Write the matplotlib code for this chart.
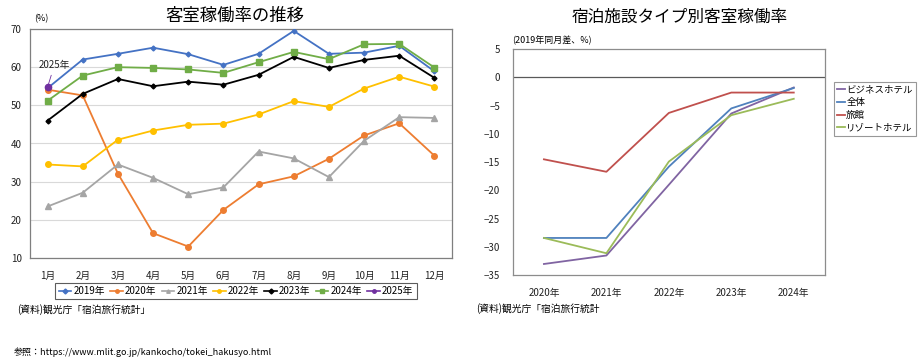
import matplotlib
matplotlib.use("Agg")
import matplotlib.pyplot as plt
from matplotlib.lines import Line2D

plt.rcParams['font.family'] = ['Noto Sans CJK JP', 'DejaVu Sans']

months = ['1月', '2月', '3月', '4月', '5月', '6月', '7月', '8月', '9月', '10月', '11月', '12月']
y2019 = [54.5, 62.0, 63.5, 65.1, 63.4, 60.6, 63.5, 69.5, 63.5, 63.8, 65.6, 58.9]
y2020 = [54.1, 52.6, 32.1, 16.5, 13.0, 22.6, 29.3, 31.4, 36.0, 42.1, 45.3, 36.8]
y2021 = [23.5, 27.1, 34.5, 31.0, 26.7, 28.5, 37.9, 36.1, 31.2, 40.7, 46.9, 46.7]
y2022 = [34.5, 34.0, 41.0, 43.4, 44.9, 45.2, 47.6, 51.1, 49.6, 54.4, 57.5, 54.9]
y2023 = [46.0, 53.0, 56.9, 55.0, 56.2, 55.4, 58.0, 62.7, 59.8, 61.9, 63.0, 57.2]
y2024 = [51.2, 57.8, 60.0, 59.8, 59.4, 58.5, 61.3, 64.0, 62.1, 66.0, 66.1, 59.9]
y2025 = [54.8]

years = ['2020年', '2021年', '2022年', '2023年', '2024年']
business = [-33.0, -31.5, -19.0, -6.4, -1.8]
overall = [-28.4, -28.4, -15.8, -5.5, -1.9]
ryokan = [-14.5, -16.7, -6.3, -2.7, -2.7]
resort = [-28.4, -31.1, -14.9, -6.7, -3.8]

fig = plt.figure(figsize=(9.23, 3.62), dpi=100)
W, H = 923, 362

def axrect(l, t, r, b):
    return [l / W, (H - b) / H, (r - l) / W, (b - t) / H]

# ---------- left chart ----------
ax = fig.add_axes(axrect(30, 29, 452, 258))
x = list(range(1, 13))
series = [
    ('2019年', y2019, '#4472C4', 'D', 2.5),
    ('2020年', y2020, '#ED7D31', 'o', 4),
    ('2021年', y2021, '#A5A5A5', '^', 4),
    ('2022年', y2022, '#FFC000', 'o', 4),
    ('2023年', y2023, '#000000', 'D', 2.5),
    ('2024年', y2024, '#70AD47', 's', 4),
    ('2025年', y2025, '#7030A0', 'o', 4.5),
]
handles = []
for name, vals, c, m, ms in series:
    ax.plot(x[:len(vals)], vals, color=c, marker=m, markersize=ms, linewidth=1.3, zorder=3)
    handles.append(Line2D([0], [0], color=c, marker=m, markersize=2.5, linewidth=1.2))
ax.set_xlim(0.5, 12.5)
ax.set_ylim(10, 70)
ax.set_yticks(range(10, 71, 10))
ax.set_xticks(x)
ax.set_xticklabels(months)
ax.tick_params(length=0, labelsize=7, colors='#222222')
ax.tick_params(axis='x', pad=9)
ax.tick_params(axis='y', pad=6)
ax.grid(axis='y', color='#D9D9D9', linewidth=0.8)
ax.set_axisbelow(True)
for s in ax.spines.values():
    s.set_color('#7F7F7F')
    s.set_linewidth(0.9)
ax.annotate('2025年', xy=(1, y2025[0]), xytext=(0.75, 59.3), fontsize=7,
            ha='left', va='bottom', color='#222222',
            arrowprops=dict(arrowstyle='-', color='#7030A0', linewidth=0.6))
fig.text(235 / W, 1 - 16 / H, '客室稼働率の推移', fontsize=12.5, ha='center', va='center')
fig.text(34 / W, 1 - 19 / H, '(%)', fontsize=6.5, ha='left', va='center')
leg = fig.legend(handles, [s[0] for s in series], loc='center', bbox_to_anchor=(236 / W, 1 - 291 / H),
                 ncol=7, fontsize=7, frameon=True, fancybox=False, handlelength=1.3,
                 handletextpad=0.2, columnspacing=0.55, borderpad=0.35)
leg.get_frame().set_edgecolor('#333333')
leg.get_frame().set_linewidth(0.8)
fig.text(17 / W, 1 - 310 / H, '(資料)観光庁「宿泊旅行統計」', fontsize=7, ha='left', va='center')

# ---------- right chart ----------
ax2 = fig.add_axes(axrect(512.7, 49, 825, 275.3))
xi = list(range(len(years)))
rseries = [
    ('ビジネスホテル', business, '#8064A2'),
    ('全体', overall, '#4F81BD'),
    ('旅館', ryokan, '#C0504D'),
    ('リゾートホテル', resort, '#9BBB59'),
]
rh = []
for name, vals, c in rseries:
    l, = ax2.plot(xi, vals, color=c, linewidth=1.3, label=name)
    rh.append(l)
ax2.axhline(0, color='#595959', linewidth=0.9, zorder=1)
ax2.set_xlim(-0.5, 4.5)
ax2.set_ylim(-35, 5)
ax2.set_yticks(range(-35, 6, 5))
ax2.set_xticks(xi)
ax2.set_xticklabels(years)
ax2.tick_params(length=0, labelsize=7, colors='#222222')
ax2.tick_params(axis='x', pad=9)
ax2.tick_params(axis='y', pad=9)
for s in ax2.spines.values():
    s.set_color('#8C8C8C')
    s.set_linewidth(0.9)
fig.text(680 / W, 1 - 17 / H, '宿泊施設タイプ別客室稼働率', fontsize=12, ha='center', va='center')
fig.text(512 / W, 1 - 40 / H, '(2019年同月差、%)', fontsize=6.5, ha='left', va='center')
leg2 = fig.legend(rh, [r[0] for r in rseries], loc='upper left', bbox_to_anchor=(834 / W, 1 - 82 / H),
                  fontsize=6.8, frameon=True, fancybox=False, handlelength=0.8, handletextpad=0.15,
                  borderpad=0.35, labelspacing=0.4, borderaxespad=0)
leg2.get_frame().set_edgecolor('#7F7F7F')
leg2.get_frame().set_linewidth(0.8)
fig.text(476 / W, 1 - 309 / H, '(資料)観光庁「宿泊旅行統計', fontsize=7, ha='left', va='center')

fig.text(14 / W, 1 - 352 / H, '参照：https://www.mlit.go.jp/kankocho/tokei_hakusyo.html', fontsize=6.5,
         ha='left', va='center')

fig.savefig('out.png', dpi=100)
